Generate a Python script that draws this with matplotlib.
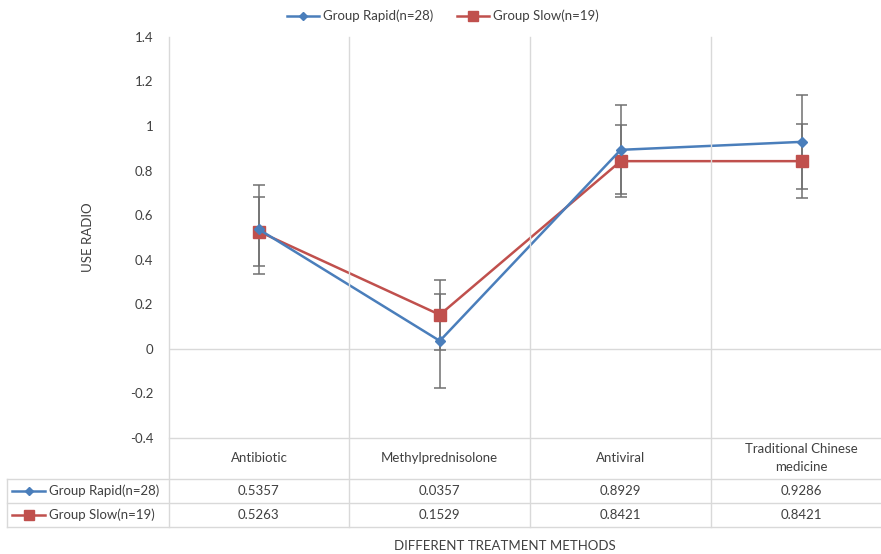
import matplotlib.pyplot as plt
from matplotlib import transforms
from matplotlib.lines import Line2D

categories = ["Antibiotic", "Methylprednisolone", "Antiviral", "Traditional Chinese\nmedicine"]
rapid = [0.5357, 0.0357, 0.8929, 0.9286]
slow = [0.5263, 0.1529, 0.8421, 0.8421]
rapid_err = [0.20, 0.21, 0.20, 0.21]
slow_err = [0.155, 0.157, 0.163, 0.166]
rapid_label = "Group Rapid(n=28)"
slow_label = "Group Slow(n=19)"
yticks = [-0.4, -0.2, 0, 0.2, 0.4, 0.6, 0.8, 1, 1.2, 1.4]

W, H = 881, 554
blue = "#4A7EBB"
red = "#C0504D"
grid = "#D9D9D9"
txt = "#404040"
fs = 9.5
plt.rcParams['font.family'] = ['Lato', 'DejaVu Sans']

fig = plt.figure(figsize=(W / 100, H / 100), dpi=100)

def fy(py):
    return 1 - py / H

left, right = 168.5, 892
top, bottom = 36.8, 438
ax = fig.add_axes([left / W, fy(bottom), (right - left) / W, (bottom - top) / H])
x = list(range(len(categories)))

ax.errorbar(x, rapid, yerr=rapid_err, fmt='none', ecolor='#707070', elinewidth=1.1, capsize=4, capthick=1.1, zorder=2)
ax.errorbar(x, slow, yerr=slow_err, fmt='none', ecolor='#707070', elinewidth=1.1, capsize=4, capthick=1.1, zorder=2)
ax.plot(x, rapid, color=blue, lw=1.8, marker='D', ms=5, zorder=4)
ax.plot(x, slow, color=red, lw=1.8, marker='s', ms=8, zorder=3)

ax.set_xlim(-0.5, 3.5)
ax.set_ylim(-0.4, 1.4)
ax.set_yticks(yticks)
ax.set_yticklabels([f"{v:g}" for v in yticks], fontsize=fs, color=txt)
ax.tick_params(axis='y', length=0, pad=11)
ax.set_xticks([])
for s in ax.spines.values():
    s.set_visible(False)
ax.axhline(0, color=grid, lw=1, zorder=1)
ax.set_ylabel("USE RADIO", fontsize=fs, color=txt, labelpad=26)

# table below plot
tr = transforms.blended_transform_factory(ax.transData, fig.transFigure)
for xv in [-0.5, 0.5, 1.5, 2.5]:
    fig.add_artist(Line2D([xv, xv], [fy(top), fy(527)], transform=tr, color=grid, lw=1))
fig.add_artist(Line2D([left / W, 1], [fy(438), fy(438)], color=grid, lw=1))
for py in [479, 503, 527]:
    fig.add_artist(Line2D([7 / W, 1], [fy(py), fy(py)], color=grid, lw=1))
fig.add_artist(Line2D([7 / W, 7 / W], [fy(479), fy(527)], color=grid, lw=1))

for i, c in enumerate(categories):
    fig.text(i, fy(458), c, transform=tr, ha='center', va='center', fontsize=fs, color=txt, linespacing=1.55)
    fig.text(i, fy(491), f"{rapid[i]:.4f}", transform=tr, ha='center', va='center', fontsize=fs, color=txt)
    fig.text(i, fy(515), f"{slow[i]:.4f}", transform=tr, ha='center', va='center', fontsize=fs, color=txt)

for py, col, mk, ms, lab in [(491, blue, 'D', 4.5, rapid_label), (515, red, 's', 7, slow_label)]:
    fig.add_artist(Line2D([12 / W, 45 / W], [fy(py), fy(py)], color=col, lw=1.8))
    fig.add_artist(Line2D([28.5 / W], [fy(py)], color=col, marker=mk, ms=ms, lw=0))
    fig.text(49 / W, fy(py), lab, ha='left', va='center', fontsize=fs, color=txt)

fig.text(505 / W, fy(546), "DIFFERENT TREATMENT METHODS", ha='center', va='center', fontsize=fs, color=txt)

handles = [Line2D([], [], color=blue, lw=1.8, marker='D', ms=4.5),
           Line2D([], [], color=red, lw=1.8, marker='s', ms=7)]
fig.legend(handles, [rapid_label, slow_label], loc='center', bbox_to_anchor=(443 / W, fy(16)),
           ncol=2, frameon=False, fontsize=fs, labelcolor=txt, handlelength=2.4,
           handletextpad=0.3, columnspacing=1.8)

fig.savefig("out.png", dpi=100)
